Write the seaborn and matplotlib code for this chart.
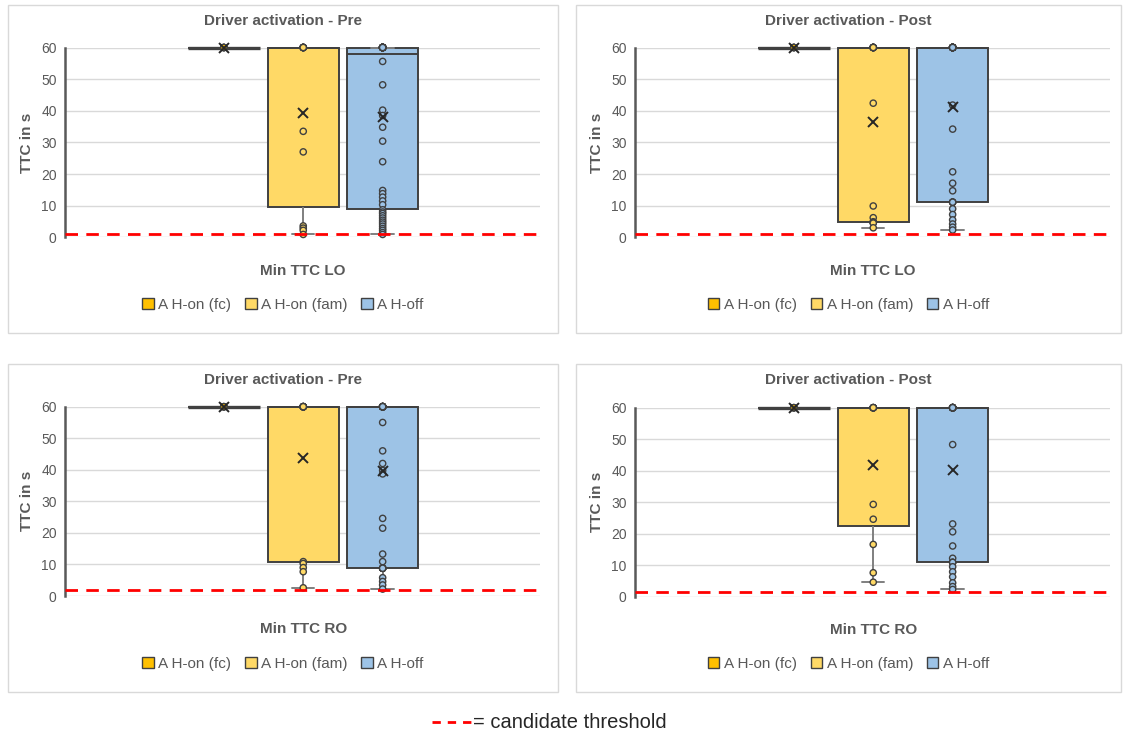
import matplotlib
matplotlib.use("Agg")
import matplotlib.pyplot as plt
import numpy as np
import pandas as pd
import seaborn as sns
from matplotlib.patches import Rectangle, Patch
from matplotlib.lines import Line2D

# ---- data -------------------------------------------------------------
groups = ["A H-on (fc)", "A H-on (fam)", "A H-off"]
colors = ["#FFC000", "#FFD966", "#9DC3E6"]

titles = ["Driver activation - Pre", "Driver activation - Post",
          "Driver activation - Pre", "Driver activation - Post"]
measures = ["Min TTC LO", "Min TTC LO", "Min TTC RO", "Min TTC RO"]
thresholds = [1.0, 1.0, 2.0, 1.4]

pre_lo_fc = [60] * 4
pre_lo_fam = [60] * 8 + [33.5, 27.0, 3.6, 2.9, 2.2, 0.9]
pre_lo_off = [60] * 25 + [55.6, 48.2, 40.2, 38.5, 34.8, 30.4, 23.9, 14.8, 13.8,
                          12.7, 11.5, 10.3, 8.7, 8.0, 7.5, 6.8, 6.1, 5.4, 4.8,
                          4.2, 3.5, 2.8, 2.2, 1.5, 0.9]

post_lo_fc = [60] * 4
post_lo_fam = [60] * 9 + [42.4, 9.9, 6.2, 4.9, 4.7, 4.7, 4.5, 3.0]
post_lo_off = [60] * 22 + [41.8, 34.2, 20.7, 17.1, 14.7, 11.1, 11.1, 11.1, 11.1,
                           9.0, 7.2, 5.5, 4.2, 3.2, 2.3]

pre_ro_fc = [60] * 4
pre_ro_fam = [60] * 11 + [10.9, 10.3, 9.0, 7.7, 2.6]
pre_ro_off = [60] * 21 + [55.0, 46.0, 42.0, 39.8, 38.7, 24.6, 21.5, 13.3, 10.9,
                          8.8, 8.8, 8.8, 8.8, 8.8, 8.8, 8.8, 5.8, 4.6, 3.5, 2.2]

post_ro_fc = [60] * 4
post_ro_fam = [60] * 7 + [29.3, 24.6, 16.6, 7.6, 4.6]
post_ro_off = [60] * 19 + [48.3, 23.1, 20.6, 16.1, 12.2, 10.9, 10.9, 10.9, 9.5,
                           7.9, 6.3, 4.4, 3.2, 2.3]

panel_values = [
    (pre_lo_fc, pre_lo_fam, pre_lo_off),
    (post_lo_fc, post_lo_fam, post_lo_off),
    (pre_ro_fc, pre_ro_fam, pre_ro_off),
    (post_ro_fc, post_ro_fam, post_ro_off),
]

# ---- layout (pixels) -------------------------------------------------
W, H = 1124, 736
frames = [(8, 5, 558, 333), (576, 5, 1121, 333),
          (8, 364, 558, 692), (576, 364, 1121, 692)]
plot_boxes = [(65, 47.5, 540, 237.3), (635, 47.5, 1110, 237.3),
              (65, 406.7, 540, 596.0), (635, 407.7, 1110, 596.7)]

sns.set_style("white")
plt.rcParams["font.family"] = ["Liberation Sans", "DejaVu Sans"]

TXT = "#595959"
EDGE = "#404040"

fig = plt.figure(figsize=(W / 100, H / 100), dpi=100)
fig.patch.set_facecolor("white")


def fx(px):
    return px / W


def fy(py):
    return 1 - py / H


for i in range(4):
    x0, y0, x1, y1 = frames[i]
    fig.add_artist(Rectangle((fx(x0), fy(y1)), fx(x1) - fx(x0), fy(y0) - fy(y1),
                             transform=fig.transFigure, fill=False,
                             edgecolor="#D9D9D9", linewidth=1.0, zorder=0))

    ax0, ay0, ax1, ay1 = plot_boxes[i]
    ax = fig.add_axes([fx(ax0), fy(ay1), fx(ax1) - fx(ax0), fy(ay0) - fy(ay1)])

    rows = []
    for g, vals in zip(groups, panel_values[i]):
        for v in vals:
            rows.append((measures[i], g, v))
    df = pd.DataFrame(rows, columns=["measure", "group", "ttc"])

    sns.boxplot(data=df, x="measure", y="ttc", hue="group", hue_order=groups,
                palette=colors, saturation=1, width=0.8, gap=0.1,
                linecolor=EDGE, linewidth=1.4, showfliers=False,
                showmeans=True, capwidths=0.075,
                whiskerprops=dict(color="#7F7F7F"),
                capprops=dict(color="#7F7F7F"),
                meanprops=dict(marker="x", markeredgecolor="#262626",
                               markersize=7, markeredgewidth=1.4),
                legend=False, ax=ax)
    sns.stripplot(data=df, x="measure", y="ttc", hue="group", hue_order=groups,
                  palette=colors, dodge=True, jitter=False, size=4.5,
                  linewidth=1.0, edgecolor=EDGE, legend=False, zorder=4, ax=ax)

    # keep box tops at 60 fully visible and put the mean crosses on top
    for art in list(ax.patches) + list(ax.lines) + list(ax.collections):
        art.set_clip_on(False)
    for ln in ax.lines:
        if ln.get_marker() == "x":
            ln.set_zorder(6)
    # a box with no spread collapses to a single, heavier line
    for p in ax.patches:
        if p.get_path().get_extents().height < 1e-9:
            p.set_linewidth(2.4)

    ax.axhline(thresholds[i], color="#FF0000", linewidth=2.0,
               linestyle=(0, (4.5, 3.0)), zorder=5)

    ax.set_ylim(0, 60)
    ax.set_xlim(-0.8, 0.795)
    ax.set_yticks(np.arange(0, 61, 10))
    ax.yaxis.grid(True, color="#D9D9D9", linewidth=1.0)
    ax.set_axisbelow(True)
    for s in ["top", "right", "bottom"]:
        ax.spines[s].set_visible(False)
    ax.spines["left"].set_color(TXT)
    ax.spines["left"].set_linewidth(1.8)
    ax.tick_params(axis="y", length=0, labelsize=10, labelcolor=TXT, pad=6)
    ax.tick_params(axis="x", length=0, labelsize=11, labelcolor=TXT, pad=19)
    for lbl in ax.get_xticklabels():
        lbl.set_fontweight("bold")
    ax.set_xlabel("")
    ax.set_ylabel("")

    cx = (x0 + x1) / 2
    fig.text(fx(cx), fy(y0 + 16), titles[i], ha="center", va="center",
             fontsize=11, fontweight="bold", color=TXT)
    fig.text(fx(ax0 - 38), fy((ay0 + ay1) / 2), "TTC in s", rotation=90,
             ha="center", va="center", fontsize=11, fontweight="bold", color=TXT)

    handles = [Patch(facecolor=c, edgecolor=EDGE, linewidth=1.0) for c in colors]
    fig.legend(handles, groups, loc="center",
               bbox_to_anchor=(fx(cx), fy(y0 + 300)), ncol=3, frameon=False,
               fontsize=11, labelcolor=TXT, handlelength=0.75, handleheight=0.75,
               handletextpad=0.3, columnspacing=0.9, borderaxespad=0)

# threshold key below the panels
fig.add_artist(Line2D([fx(432), fx(471)], [fy(722), fy(722)],
                      transform=fig.transFigure, color="#FF0000", linewidth=2.0,
                      linestyle=(0, (3.0, 2.5))))
fig.text(fx(473), fy(722), "= candidate threshold", ha="left", va="center",
         fontsize=14.5, color="#262626")

fig.savefig("out.png", dpi=100, facecolor="white")
